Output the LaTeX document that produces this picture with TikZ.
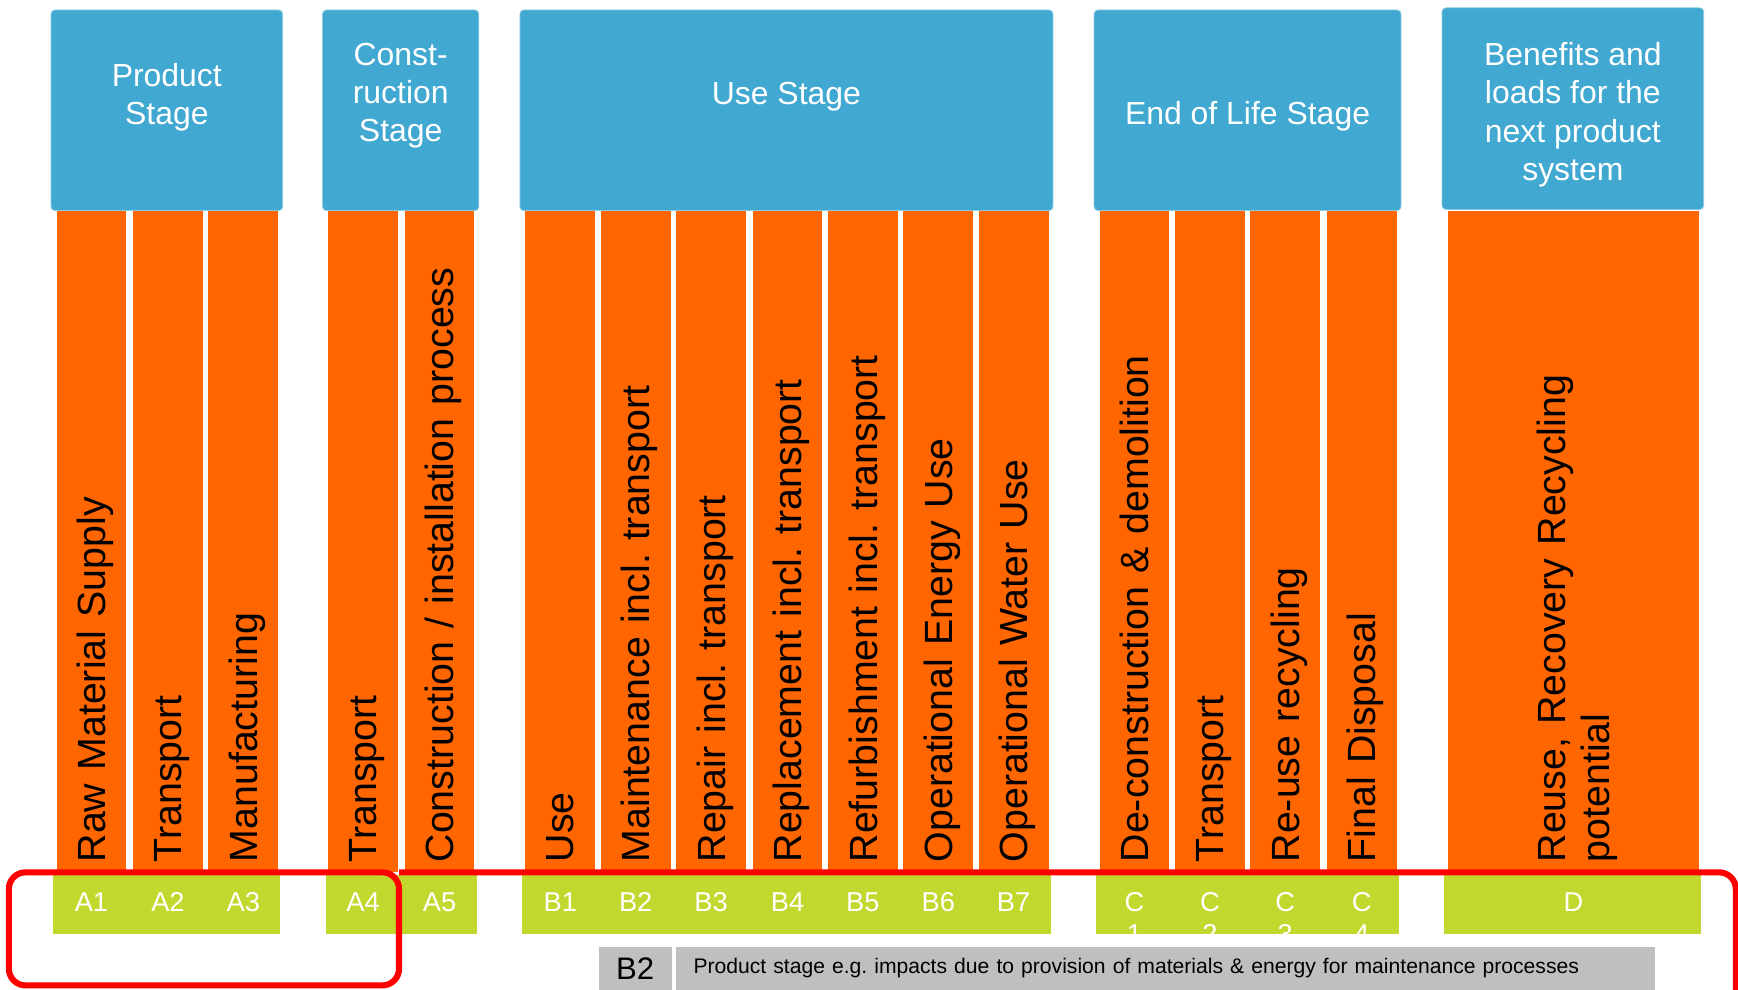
\documentclass[tikz,border=0pt]{standalone}
\usepackage{fontspec}
\setmainfont{Liberation Sans}
\frenchspacing
\usetikzlibrary{positioning}
\definecolor{stageblue}{RGB}{65,168,209}
\definecolor{phaseorange}{RGB}{255,102,0}
\definecolor{modulegreen}{RGB}{195,216,46}
\definecolor{notegray}{RGB}{191,191,191}
\tikzset{
    stagebox/.style={rectangle, fill=stageblue, draw=stageblue!60!white, line width=0.4pt, rounded corners=2pt},
    stagetext/.style={align=center, text=white, font=\fontsize{16.4}{19.6}\selectfont},
    phase/.style={rectangle, fill=phaseorange, rotate=90, minimum width=11.94cm, minimum height=1.26cm, inner xsep=0.18cm, inner ysep=0pt, text width=11.58cm, text depth=0pt, align=left, font=\fontsize{20.2}{22.7}\selectfont},
    modules/.style={rectangle, fill=modulegreen, minimum height=1.08cm},
    code/.style={anchor=base, inner sep=0pt, text=white, font=\fontsize{14}{16.5}\selectfont},
    note/.style={rectangle, fill=notegray, minimum height=0.78cm, inner ysep=0pt},
    outline/.style={draw=red, line width=0.11cm, rounded corners=0.3cm}
}

\begin{document}
\begin{tikzpicture}[x=0.02cm, y=-0.02cm]
    \useasboundingbox (0,0) rectangle (1568,893);
    \clip (0,0) rectangle (1568,893);

    % Product stage columns
    \node[phase] (a1) at (82.5,488.5) {Raw Material Supply};
    \node[phase] (a2) at (151.5,488.5) {Transport};
    \node[phase] (a3) at (219.5,488.5) {Manufacturing};

    % Construction stage columns
    \node[phase] (a4) at (327.5,488.5) {Transport};
    \node[phase] (a5) at (396.5,488.5) {Construction / installation process};

    % Use stage columns
    \node[phase] (b1) at (505.5,488.5) {Use};
    \node[phase] (b2) at (573.5,488.5) {Maintenance incl. transport};
    \node[phase] (b3) at (641.5,488.5) {Repair incl. transport};
    \node[phase] (b4) at (710.5,488.5) {Replacement incl. transport};
    \node[phase] (b5) at (778.5,488.5) {Refurbishment incl. transport};
    \node[phase] (b6) at (846.5,488.5) {Operational Energy Use};
    \node[phase] (b7) at (914.5,488.5) {Operational Water Use};

    % End of life stage columns
    \node[phase] (c1) at (1023.5,488.5) {De-construction \& demolition};
    \node[phase] (c2) at (1091.5,488.5) {Transport};
    \node[phase] (c3) at (1159.5,488.5) {Re-use recycling};
    \node[phase] (c4) at (1228.5,488.5) {Final Disposal};

    % Next product system column
    \node[phase, minimum height=4.54cm, text depth=0.79cm] (d) at (1419.5,488.5) {Reuse, Recovery Recycling\\potential};

    % Stage headers
    \node[stagebox, minimum width=4.18cm, minimum height=3.62cm] (product) at (150.5,99.5) {};
    \node[stagebox, minimum width=2.82cm, minimum height=3.62cm] (construction) at (361.5,99.5) {};
    \node[stagebox, minimum width=9.62cm, minimum height=3.62cm] (use) at (709.5,99.5) {};
    \node[stagebox, minimum width=5.54cm, minimum height=3.62cm] (endoflife) at (1125.5,99.5) {};
    \node[stagebox, minimum width=4.72cm, minimum height=3.64cm] (benefits) at (1419,98) {};

    \node[stagetext] (product_text) at (product |- 0,87.5) {Product\\Stage};
    \node[stagetext] (construction_text) at (construction |- 0,86.5) {Const-\\ruction\\Stage};
    \node[stagetext] (use_text) at (use |- 0,87.5) {Use Stage};
    \node[stagetext] (endoflife_text) at (endoflife |- 0,104.5) {End of Life Stage};
    \node[stagetext] (benefits_text) at (benefits |- 0,103.5) {Benefits and\\loads for the\\next product\\system};

    % Module code bars
    \node[modules, minimum width=4.10cm] (a_codes) at (150.5,816) {};
    \node[modules, minimum width=2.72cm] (a45_codes) at (362,816) {};
    \node[modules, minimum width=9.54cm] (b_codes) at (709.5,816) {};
    \node[modules, minimum width=5.46cm] (c_codes) at (1125.5,816) {};
    \node[modules, minimum width=4.64cm] (d_codes) at (1419,816) {};

    \node[code] (a1_code) at (a1 |- 0,822.5) {A1};
    \node[code] (a2_code) at (a2 |- 0,822.5) {A2};
    \node[code] (a3_code) at (a3 |- 0,822.5) {A3};
    \node[code] (a4_code) at (a4 |- 0,822.5) {A4};
    \node[code] (a5_code) at (a5 |- 0,822.5) {A5};
    \node[code] (b1_code) at (b1 |- 0,822.5) {B1};
    \node[code] (b2_code) at (b2 |- 0,822.5) {B2};
    \node[code] (b3_code) at (b3 |- 0,822.5) {B3};
    \node[code] (b4_code) at (b4 |- 0,822.5) {B4};
    \node[code] (b5_code) at (b5 |- 0,822.5) {B5};
    \node[code] (b6_code) at (b6 |- 0,822.5) {B6};
    \node[code] (b7_code) at (b7 |- 0,822.5) {B7};
    \node[code] (d_code) at (d |- 0,822.5) {D};

    % C codes run out of their bar
    \begin{scope}
        \clip (c_codes.south west) rectangle (c_codes.north east);
        \node[code, anchor=north, align=center] (c1_code) at (c1 |- 0,804.5) {C\\1};
        \node[code, anchor=north, align=center] (c2_code) at (c2 |- 0,804.5) {C\\2};
        \node[code, anchor=north, align=center] (c3_code) at (c3 |- 0,804.5) {C\\3};
        \node[code, anchor=north, align=center] (c4_code) at (c4 |- 0,804.5) {C\\4};
    \end{scope}

    % Red outlines
    \draw[outline] (8,787) rectangle (360,889);
    \draw[outline] (360,787) -- (1566,787) -- (1566,960);

    % Note
    \node[note, minimum width=1.32cm] (b2_note) at (573,873.5) {\fontsize{16}{19}\selectfont B2};
    \node[note, right=0.06cm of b2_note, minimum width=17.68cm, inner xsep=0.32cm, text width=17.04cm, align=left, font=\fontsize{10.85}{13}\selectfont] (b2_text) {Product stage e.g. impacts due to provision of materials \& energy for maintenance processes};
\end{tikzpicture}
\end{document}
